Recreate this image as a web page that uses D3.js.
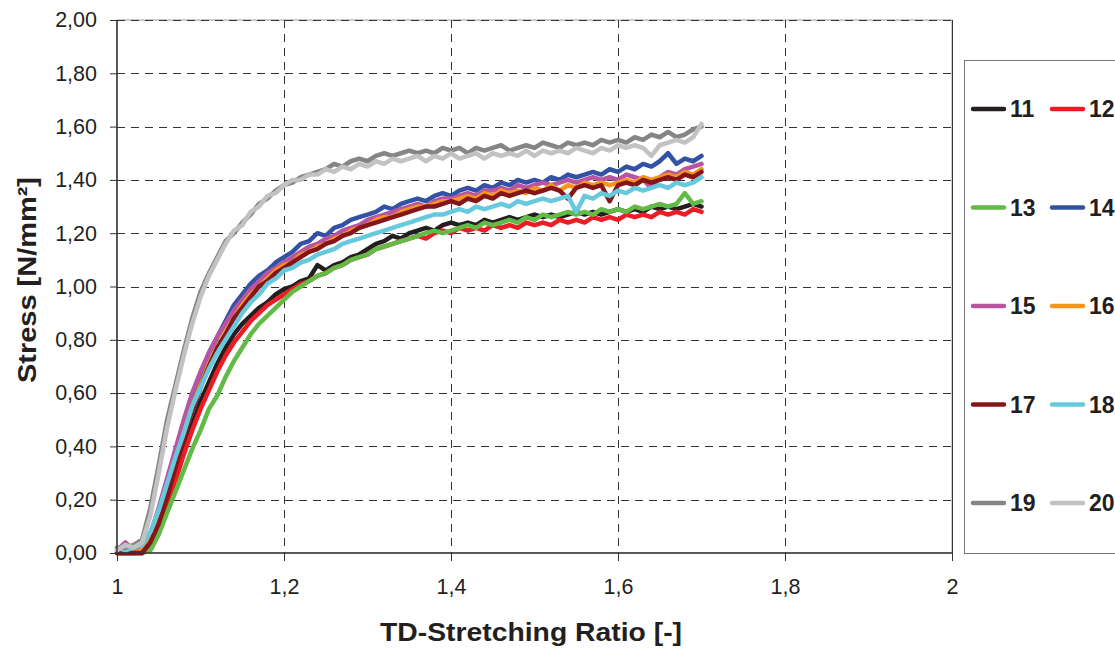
<!doctype html>
<html lang="en">
  <head>
    <meta charset="UTF-8" />
    <title>Stress vs TD-Stretching Ratio</title>
    <style>
      body { margin: 0; background: #fff; }
      svg { display: block; font-family: "Liberation Sans", Arial, sans-serif; }
    </style>
  </head>
  <body>
    <div id="target"></div>
    <script src="https://d3js.org/d3.v7.min.js"></script>
    <script>
      /* global d3 */

      // stretching ratio sample points (shared by every sample)
      const ratio = [
        1.00, 1.01, 1.02, 1.03, 1.04, 1.05, 1.06, 1.07, 1.08, 1.09,
        1.10, 1.11, 1.12, 1.13, 1.14, 1.15, 1.16, 1.17, 1.18, 1.19,
        1.20, 1.21, 1.22, 1.23, 1.24, 1.25, 1.26, 1.27, 1.28, 1.29,
        1.30, 1.31, 1.32, 1.33, 1.34, 1.35, 1.36, 1.37, 1.38, 1.39,
        1.40, 1.41, 1.42, 1.43, 1.44, 1.45, 1.46, 1.47, 1.48, 1.49,
        1.50, 1.51, 1.52, 1.53, 1.54, 1.55, 1.56, 1.57, 1.58, 1.59,
        1.60, 1.61, 1.62, 1.63, 1.64, 1.65, 1.66, 1.67, 1.68, 1.69,
        1.70
      ];

      // stress values [N/mm²], one array per sample
      const s11 = [
        0.00, 0.00, 0.00, 0.00, 0.03, 0.10, 0.19, 0.29, 0.39, 0.48,
        0.57, 0.64, 0.71, 0.77, 0.82, 0.86, 0.89, 0.92, 0.94, 0.97,
        0.99, 1.00, 1.02, 1.03, 1.08, 1.06, 1.08, 1.09, 1.11, 1.12,
        1.14, 1.16, 1.17, 1.19, 1.18, 1.20, 1.21, 1.22, 1.21, 1.23,
        1.24, 1.23, 1.24, 1.23, 1.25, 1.24, 1.25, 1.26, 1.25, 1.26,
        1.27, 1.26, 1.27, 1.26, 1.27, 1.28, 1.27, 1.28, 1.27, 1.28,
        1.29, 1.28, 1.29, 1.28, 1.30, 1.29, 1.30, 1.29, 1.30, 1.31,
        1.30
      ];
      const s12 = [
        0.00, 0.00, 0.00, 0.00, 0.02, 0.09, 0.18, 0.27, 0.37, 0.46,
        0.54, 0.61, 0.68, 0.74, 0.79, 0.83, 0.87, 0.90, 0.93, 0.95,
        0.97, 0.99, 1.01, 1.02, 1.04, 1.05, 1.07, 1.08, 1.10, 1.11,
        1.12, 1.14, 1.15, 1.16, 1.17, 1.18, 1.19, 1.18, 1.20, 1.21,
        1.20, 1.22, 1.21, 1.22, 1.21, 1.23, 1.22, 1.23, 1.22, 1.24,
        1.23, 1.24, 1.23, 1.25, 1.24, 1.25, 1.24, 1.26, 1.25, 1.26,
        1.25, 1.27, 1.26, 1.27, 1.26, 1.28, 1.27, 1.28, 1.27, 1.29,
        1.28
      ];
      const s13 = [
        0.00, 0.00, 0.00, 0.00, 0.01, 0.07, 0.15, 0.23, 0.31, 0.39,
        0.46, 0.54, 0.59, 0.66, 0.72, 0.77, 0.82, 0.86, 0.89, 0.92,
        0.95, 0.98, 1.00, 1.02, 1.04, 1.05, 1.07, 1.08, 1.10, 1.11,
        1.12, 1.14, 1.15, 1.16, 1.17, 1.18, 1.19, 1.20, 1.21, 1.20,
        1.21, 1.22, 1.23, 1.22, 1.24, 1.23, 1.24, 1.25, 1.24, 1.26,
        1.25, 1.27, 1.26, 1.27, 1.28, 1.27, 1.28, 1.27, 1.29, 1.28,
        1.29, 1.28, 1.30, 1.29, 1.30, 1.31, 1.30, 1.31, 1.35, 1.31,
        1.32
      ];
      const s14 = [
        0.00, 0.00, 0.00, 0.01, 0.06, 0.15, 0.26, 0.38, 0.49, 0.59,
        0.67, 0.75, 0.81, 0.87, 0.93, 0.97, 1.01, 1.04, 1.06, 1.09,
        1.11, 1.13, 1.16, 1.17, 1.20, 1.19, 1.22, 1.23, 1.25, 1.26,
        1.27, 1.28, 1.30, 1.29, 1.31, 1.32, 1.33, 1.32, 1.34, 1.35,
        1.34, 1.36, 1.37, 1.36, 1.38, 1.37, 1.39, 1.38, 1.40, 1.39,
        1.40, 1.39, 1.41, 1.40, 1.42, 1.41, 1.42, 1.43, 1.42, 1.44,
        1.43, 1.45, 1.44, 1.46, 1.45, 1.47, 1.50, 1.46, 1.48, 1.47,
        1.49
      ];
      const s15 = [
        0.01, 0.04, 0.01, 0.02, 0.07, 0.17, 0.28, 0.39, 0.50, 0.60,
        0.68, 0.75, 0.81, 0.86, 0.91, 0.95, 0.99, 1.02, 1.05, 1.07,
        1.09, 1.11, 1.13, 1.15, 1.16, 1.18, 1.19, 1.21, 1.22, 1.23,
        1.25, 1.26, 1.27, 1.28, 1.29, 1.30, 1.31, 1.30, 1.32, 1.33,
        1.33, 1.34, 1.35, 1.34, 1.36, 1.36, 1.37, 1.36, 1.38, 1.37,
        1.38, 1.39, 1.38, 1.39, 1.40, 1.39, 1.40, 1.41, 1.40, 1.41,
        1.40, 1.42, 1.41, 1.40, 1.37, 1.41, 1.43, 1.42, 1.44, 1.45,
        1.46
      ];
      const s16 = [
        0.00, 0.00, 0.00, 0.01, 0.05, 0.13, 0.23, 0.34, 0.45, 0.55,
        0.63, 0.71, 0.77, 0.83, 0.88, 0.93, 0.97, 1.00, 1.03, 1.06,
        1.08, 1.09, 1.12, 1.13, 1.15, 1.16, 1.18, 1.19, 1.21, 1.22,
        1.23, 1.25, 1.26, 1.26, 1.28, 1.29, 1.30, 1.30, 1.31, 1.32,
        1.32, 1.33, 1.34, 1.33, 1.35, 1.34, 1.36, 1.35, 1.36, 1.35,
        1.37, 1.36, 1.38, 1.36, 1.38, 1.37, 1.39, 1.38, 1.39, 1.38,
        1.39, 1.40, 1.39, 1.41, 1.40, 1.41, 1.42, 1.41, 1.43, 1.42,
        1.44
      ];
      const s17 = [
        0.00, 0.00, 0.00, 0.00, 0.04, 0.11, 0.21, 0.32, 0.43, 0.53,
        0.62, 0.70, 0.77, 0.82, 0.88, 0.92, 0.96, 1.00, 1.02, 1.05,
        1.07, 1.09, 1.11, 1.13, 1.14, 1.16, 1.17, 1.19, 1.20, 1.22,
        1.23, 1.24, 1.25, 1.26, 1.27, 1.28, 1.29, 1.30, 1.30, 1.31,
        1.32, 1.31, 1.33, 1.32, 1.34, 1.33, 1.35, 1.34, 1.35, 1.36,
        1.35, 1.36, 1.37, 1.36, 1.33, 1.37, 1.38, 1.37, 1.38, 1.32,
        1.38, 1.39, 1.38, 1.40, 1.39, 1.40, 1.41, 1.40, 1.42, 1.41,
        1.43
      ];
      const s18 = [
        0.02, 0.01, 0.02, 0.03, 0.08, 0.16, 0.26, 0.36, 0.45, 0.55,
        0.62, 0.69, 0.75, 0.80, 0.85, 0.90, 0.94, 0.97, 1.01, 1.03,
        1.06, 1.07, 1.09, 1.10, 1.12, 1.13, 1.14, 1.16, 1.17, 1.18,
        1.19, 1.20, 1.21, 1.22, 1.23, 1.24, 1.25, 1.26, 1.27, 1.27,
        1.28, 1.29, 1.28, 1.30, 1.29, 1.30, 1.31, 1.30, 1.32, 1.31,
        1.32, 1.33, 1.32, 1.33, 1.34, 1.28, 1.34, 1.33, 1.35, 1.34,
        1.36, 1.35, 1.37, 1.36, 1.37, 1.38, 1.37, 1.39, 1.38, 1.39,
        1.41
      ];
      const s19 = [
        0.02, 0.02, 0.03, 0.05, 0.17, 0.33, 0.50, 0.63, 0.76, 0.88,
        0.98, 1.05, 1.11, 1.17, 1.20, 1.24, 1.27, 1.31, 1.33, 1.36,
        1.38, 1.39, 1.41, 1.42, 1.43, 1.44, 1.46, 1.45, 1.47, 1.48,
        1.47, 1.49, 1.50, 1.49, 1.50, 1.51, 1.50, 1.51, 1.50, 1.52,
        1.51, 1.52, 1.50, 1.52, 1.51, 1.52, 1.53, 1.51, 1.52, 1.53,
        1.52, 1.54, 1.53, 1.52, 1.54, 1.53, 1.54, 1.53, 1.55, 1.54,
        1.55, 1.54, 1.56, 1.55, 1.57, 1.56, 1.58, 1.56, 1.57, 1.59,
        1.60
      ];
      const s20 = [
        0.01, 0.03, 0.02, 0.04, 0.14, 0.30, 0.47, 0.61, 0.74, 0.86,
        0.96, 1.04, 1.10, 1.16, 1.21, 1.23, 1.28, 1.30, 1.34, 1.35,
        1.38, 1.40, 1.40, 1.42, 1.42, 1.44, 1.43, 1.45, 1.44, 1.46,
        1.45, 1.47, 1.46, 1.48, 1.47, 1.48, 1.49, 1.47, 1.49, 1.48,
        1.50, 1.48, 1.49, 1.50, 1.48, 1.50, 1.49, 1.50, 1.49, 1.51,
        1.49, 1.51, 1.50, 1.51, 1.50, 1.52, 1.51, 1.50, 1.52, 1.51,
        1.53, 1.52, 1.53, 1.52, 1.49, 1.53, 1.54, 1.55, 1.54, 1.56,
        1.61
      ];

      const names = ["11", "12", "13", "14", "15", "16", "17", "18", "19", "20"];
      const colors = [
        "#231f20", "#ed1c24", "#62bb46", "#3352a4", "#b954a1",
        "#f7941d", "#841619", "#66c9dd", "#858585", "#c2c2c4"
      ];
      const values = [s11, s12, s13, s14, s15, s16, s17, s18, s19, s20];

      const xTicks = [1, 1.2, 1.4, 1.6, 1.8, 2];
      const yTicks = [0, 0.2, 0.4, 0.6, 0.8, 1.0, 1.2, 1.4, 1.6, 1.8, 2.0];

      const width = 1115,
        height = 648;
      const margin = { left: 117, top: 20, right: 163, bottom: 95 };
      const comma = (s) => s.replace(".", ",");

      const svg = d3
        .select("#target")
        .append("svg")
        .attr("width", width)
        .attr("height", height)
        .attr("viewBox", [0, 0, width, height]);

      const xScale = d3
        .scaleLinear()
        .domain([1, 2])
        .range([margin.left, width - margin.right]);
      const yScale = d3
        .scaleLinear()
        .domain([0, 2])
        .range([height - margin.bottom, margin.top]);

      const [x0, x1] = xScale.range();
      const [y0, y1] = yScale.range();

      // plot frame
      svg.append("rect")
        .attr("x", x0).attr("y", y1)
        .attr("width", x1 - x0).attr("height", y0 - y1)
        .attr("fill", "#fff")
        .attr("stroke", "#999");

      // dashed grid
      const grid = svg.append("g")
        .attr("stroke", "#333")
        .attr("stroke-width", 1)
        .attr("stroke-dasharray", "8,6");
      grid.selectAll("line.h")
        .data(yTicks.filter((d) => d > 0))
        .join("line")
        .attr("class", "h")
        .attr("x1", x0).attr("x2", x1)
        .attr("y1", (d) => Math.round(yScale(d)) + 0.5)
        .attr("y2", (d) => Math.round(yScale(d)) + 0.5);
      grid.selectAll("line.v")
        .data(xTicks.slice(1, -1))
        .join("line")
        .attr("class", "v")
        .attr("y1", y1).attr("y2", y0)
        .attr("x1", (d) => Math.round(xScale(d)) + 0.5)
        .attr("x2", (d) => Math.round(xScale(d)) + 0.5);

      // right border
      svg.append("line")
        .attr("x1", x1 + 0.5).attr("x2", x1 + 0.5)
        .attr("y1", y1).attr("y2", y0)
        .attr("stroke", "#333");

      // curves
      const line = d3
        .line()
        .x((d) => xScale(d[0]))
        .y((d) => yScale(d[1]))
        .curve(d3.curveLinear);

      svg.append("g")
        .attr("fill", "none")
        .attr("stroke-width", 4.5)
        .attr("stroke-linejoin", "round")
        .attr("stroke-linecap", "round")
        .selectAll("path")
        .data(values)
        .join("path")
        .attr("stroke", (d, i) => colors[i])
        .attr("d", (d) => line(d.map((v, i) => [ratio[i], v])));

      // axes
      const yAxis = svg.append("g")
        .attr("transform", `translate(${x0},0)`)
        .call(
          d3.axisLeft(yScale)
            .tickValues(yTicks)
            .tickSize(7)
            .tickPadding(13)
            .tickFormat((d) => comma(d3.format(".2f")(d)))
        );
      const xAxis = svg.append("g")
        .attr("transform", `translate(0,${y0})`)
        .call(
          d3.axisBottom(xScale)
            .tickValues(xTicks)
            .tickSize(8)
            .tickPadding(18)
            .tickFormat((d) => comma(String(d)))
        );
      [xAxis, yAxis].forEach((a) => {
        a.select(".domain").attr("stroke", "#333").attr("stroke-width", 1.5);
        a.selectAll(".tick line").attr("stroke", "#333");
        a.selectAll(".tick text")
          .attr("fill", "#231f20")
          .style("font-family", '"Liberation Sans", Arial, sans-serif')
          .style("font-size", "21.5px");
      });
      xAxis.select(".domain").attr("d", `M${x0},0H${x1}`);
      yAxis.select(".domain").attr("d", `M0,${y0}V${y1}`);

      // axis titles
      svg.append("text")
        .attr("x", 531)
        .attr("y", 641)
        .attr("text-anchor", "middle")
        .attr("font-size", "26px")
        .attr("font-weight", "bold")
        .attr("fill", "#231f20")
        .attr("textLength", 302)
        .attr("lengthAdjust", "spacingAndGlyphs")
        .text("TD-Stretching Ratio [-]");

      svg.append("text")
        .attr("transform", `translate(36,280) rotate(-90)`)
        .attr("text-anchor", "middle")
        .attr("font-size", "26px")
        .attr("font-weight", "bold")
        .attr("fill", "#231f20")
        .attr("textLength", 206)
        .attr("lengthAdjust", "spacingAndGlyphs")
        .text("Stress [N/mm²]");

      // legend
      const legend = svg.append("g");
      legend.append("rect")
        .attr("x", 964.5).attr("y", 60.5)
        .attr("width", 170).attr("height", 493)
        .attr("fill", "#fff")
        .attr("stroke", "#777");

      const item = legend.selectAll("g.item")
        .data(names)
        .join("g")
        .attr("class", "item")
        .attr("transform", (d, i) =>
          `translate(${i % 2 ? 1052 : 973},${109 + Math.floor(i / 2) * 98.5})`);
      item.append("line")
        .attr("x1", 0).attr("x2", 31)
        .attr("stroke", (d, i) => colors[i])
        .attr("stroke-width", 4.5)
        .attr("stroke-linecap", "round");
      item.append("text")
        .attr("x", 37)
        .attr("dy", "0.36em")
        .attr("font-size", "23px")
        .attr("font-weight", "bold")
        .attr("fill", "#231f20")
        .text((d) => d);
    </script>
  </body>
</html>
